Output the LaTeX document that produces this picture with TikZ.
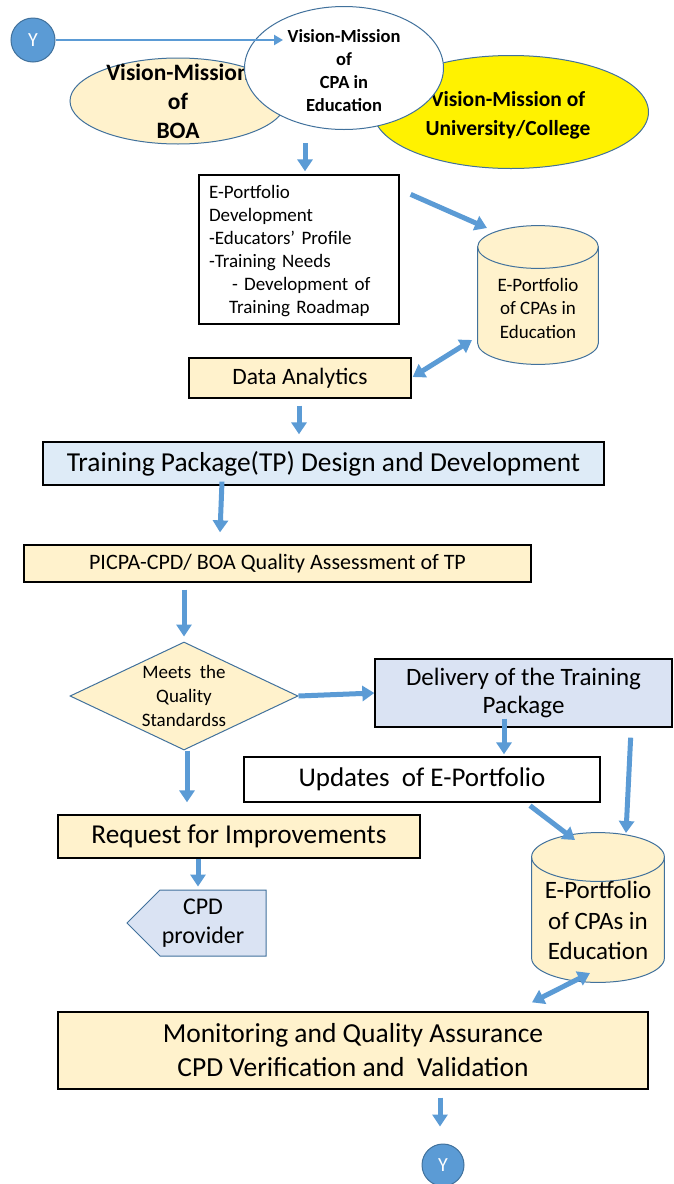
\documentclass[tikz,border=0pt]{standalone}
\usepackage{fontspec}
\setmainfont{Carlito}
\usetikzlibrary{shapes.geometric,shapes.symbols,arrows.meta}

\definecolor{flowblue}{HTML}{5B9BD5}
\definecolor{edgeblue}{HTML}{41719C}
\definecolor{cream}{HTML}{FFF2CC}
\definecolor{paleblue}{HTML}{DEEBF7}
\definecolor{lavender}{HTML}{DAE3F3}

\newcommand{\fsz}[2]{\fontsize{#1}{#2}\selectfont}

\begin{document}
\begin{tikzpicture}[x=1pt, y=-1pt,
	every node/.style={align=center, inner sep=0},
	box/.style={rectangle, draw, line width=1.3pt},
	vision/.style={ellipse, draw=edgeblue, line width=1pt},
	% database drum: half width, cap radius, height
	store/.style n args={3}{rectangle, minimum width=2*#1, minimum height=#3, path picture={
		\draw[edgeblue, fill=cream, line width=1pt]
			([xshift=.6pt, yshift=-#2pt]path picture bounding box.north west)
			-- ([xshift=.6pt, yshift=#2pt]path picture bounding box.south west)
			arc[start angle=180, end angle=360, x radius=#1pt-.6pt, y radius=#2pt-.6pt]
			-- ([xshift=-.6pt, yshift=-#2pt]path picture bounding box.north east)
			arc[start angle=0, end angle=180, x radius=#1pt-.6pt, y radius=#2pt-.6pt] -- cycle;
		\draw[edgeblue, line width=1pt]
			([xshift=.6pt, yshift=-#2pt]path picture bounding box.north west)
			arc[start angle=180, end angle=360, x radius=#1pt-.6pt, y radius=#2pt-.6pt];
	}},
	conn/.style={circle, draw=edgeblue, fill=flowblue, text=white, line width=1pt, font=\fsz{20}{22}},
	flow/.style={draw=flowblue, line width=5pt, -{Triangle[width=15pt,length=12pt]}},
	both/.style={draw=flowblue, line width=5pt, {Triangle[width=15pt,length=12pt]}-{Triangle[width=15pt,length=12pt]}},
	link/.style={draw=flowblue, line width=2.5pt, -{Triangle[width=10pt,length=9pt]}}
]
\useasboundingbox (0,0) rectangle (673,1184);

% vision and mission at the top
\node[conn, minimum size=44] (ytop) at (33,40) {Y};
\node[vision, fill=cream, minimum width=216, minimum height=86,
	label={[font=\bfseries\fsz{23.5}{29}]center:Vision-Mission\\of\\BOA}] (boa) at (178,101) {};
\node[vision, fill=yellow, minimum width=275, minimum height=113,
	label={[font=\bfseries\fsz{21.5}{29}, xshift=-3, yshift=-3]center:Vision-Mission of\\University/College}] (uni) at (511,112) {};
\node[vision, fill=white, minimum width=199, minimum height=123,
	label={[font=\bfseries\fsz{18.5}{23}, yshift=-3]center:Vision-Mission\\of\\CPA in\\Education}] (cpa) at (344,68) {};
\coordinate (cpain) at (283,40);
\draw[link] (ytop) -- (cpain);

% e-portfolio and analytics
\node[box, fill=white, minimum width=200, minimum height=149, text width=180, align=left,
	font=\fsz{19}{23}] (epd) at (299,249.5) {\rule{0pt}{17pt}E-Portfolio\\Development\\-Educators’ Profile\\-Training Needs\\
	\hspace*{23pt}- Development of\\\hspace*{20pt}Training Roadmap};
\node[store={61}{22}{140},
	label={[font=\fsz{19}{23.5}, yshift=-13]center:E-Portfolio\\of CPAs in\\Education}] (ep1) at (538,295) {};
\node[box, fill=cream, minimum width=222, minimum height=40, font=\fsz{23.5}{28}] (da) at (300,378) {Data Analytics};
\node[box, fill=paleblue, minimum width=561, minimum height=43, font=\fsz{27.4}{32}] (tp) at (323.5,463.5) {Training Package(TP) Design and Development};
\node[box, fill=cream, minimum width=507, minimum height=37, font=\fsz{22}{26}] (qa) at (277.5,563.5) {PICPA-CPD/ BOA Quality Assessment of TP};

% decision and delivery
\node[diamond, aspect=2, draw=edgeblue, line width=1pt, fill=cream, minimum width=228, minimum height=108,
	font=\fsz{19}{24}] (meets) at (184,696) {Meets~ the\\Quality\\Standardss};
\node[box, fill=lavender, minimum width=297, minimum height=68, font=\fsz{25}{28}] (deliv) at (523.5,693) {Delivery of the Training\\Package};
\node[box, fill=white, minimum width=356, minimum height=45, font=\fsz{27}{30}] (upd) at (422,779.5) {Updates~ of E-Portfolio};
\node[store={67}{25}{151},
	label={[font=\fsz{25}{30.5}, yshift=-13]center:E-Portfolio\\of CPAs in\\Education}] (ep2) at (598,907.5) {};
\node[box, fill=cream, minimum width=362, minimum height=43, font=\fsz{27.3}{30}] (req) at (239,836.5) {Request for Improvements};
\node[signal, signal to=west, draw=edgeblue, line width=1pt, fill=lavender, minimum width=139, minimum height=66,
	label={[font=\fsz{24}{29}, xshift=-10]center:CPD\\provider}] (cpd) at (213,923) {};
\node[box, fill=cream, minimum width=590, minimum height=77, font=\fsz{27.5}{34}] (mon) at (353,1050.5) {Monitoring and Quality Assurance\\CPD Verification and~ Validation};
\node[conn, minimum size=42] (ybot) at (443,1165) {Y};

% arrows
\draw[flow] ([xshift=-39,yshift=-13]cpa.south) -- ([xshift=6,yshift=3]epd.north);
\draw[flow] ([xshift=11,yshift=-20]epd.north east) -- ([xshift=-51,yshift=67]ep1.center);
\draw[both] ([xshift=1,yshift=1]da.east) -- ([xshift=-66,yshift=-45]ep1.center);
\draw[flow] ([xshift=-1,yshift=-7]da.south) -- ([xshift=-24.5,yshift=7]tp.north);
\draw[flow] ([xshift=-101.5,yshift=4]tp.south) -- ([xshift=-57.5,yshift=12]qa.north);
\draw[flow] ([xshift=-93.5,yshift=-7]qa.south) -- ([yshift=5]meets.north);
\draw[flow] (meets.east) -- (deliv.west);
\draw[flow] ([xshift=3]meets.south) -- ([xshift=-52,yshift=12]req.north);
\draw[flow] ([xshift=-19.5,yshift=9]deliv.south) -- ([xshift=82,yshift=2]upd.north);
\draw[flow] ([xshift=-42,yshift=-10]deliv.south east) -- ([xshift=28,yshift=74.5]ep2.center);
\draw[flow] ([xshift=108,yshift=-3]upd.south) -- ([xshift=-23,yshift=67.5]ep2.center);
\draw[flow] ([xshift=-41]req.south) -- ([xshift=-15,yshift=3]cpd.north);
\draw[both] ([xshift=179,yshift=9]mon.north) -- ([xshift=-8,yshift=-65.5]ep2.center);
\draw[flow] ([xshift=87,yshift=-8]mon.south) -- ([xshift=-3,yshift=17]ybot.north);
\end{tikzpicture}
\end{document}
